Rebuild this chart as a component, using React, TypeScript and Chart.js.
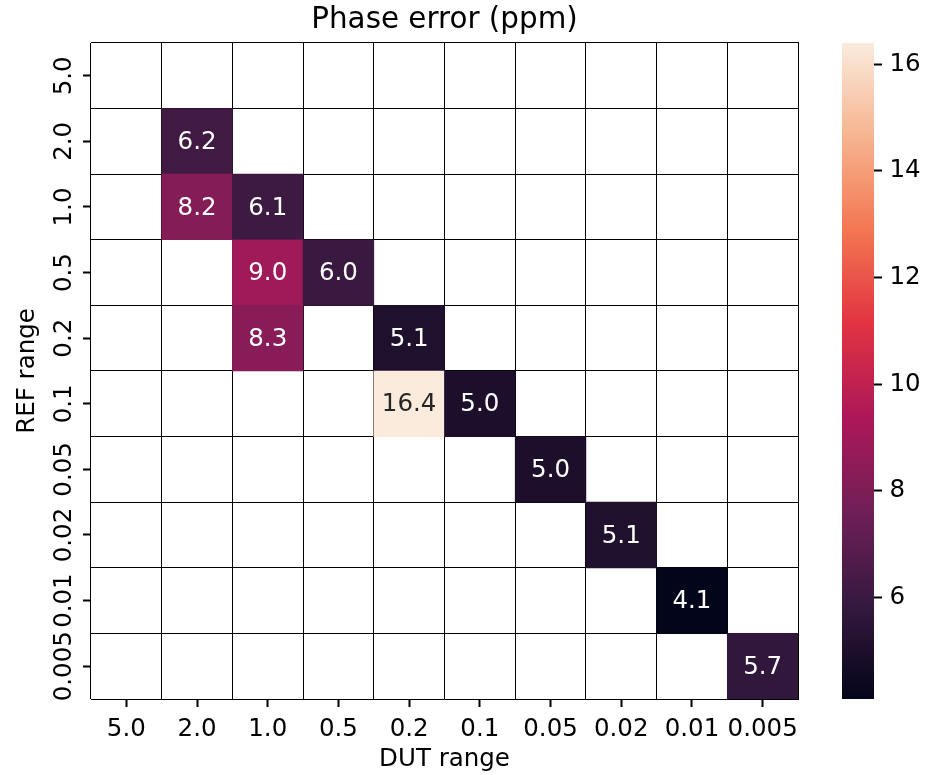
import React, { useEffect, useRef } from 'react';
import { Chart, registerables } from 'chart.js';

Chart.register(...registerables);

// Axis categories (instrument ranges)
const dutRanges = ['5.0', '2.0', '1.0', '0.5', '0.2', '0.1', '0.05', '0.02', '0.01', '0.005'];
const refRanges = ['5.0', '2.0', '1.0', '0.5', '0.2', '0.1', '0.05', '0.02', '0.01', '0.005'];

// Phase error in ppm; one row per REF range, one column per DUT range (null = not measured)
const _ = null;
const phaseError: (number | null)[][] = [
  [_, _, _, _, _, _, _, _, _, _],
  [_, 6.2, _, _, _, _, _, _, _, _],
  [_, 8.2, 6.1, _, _, _, _, _, _, _],
  [_, _, 9.0, 6.0, _, _, _, _, _, _],
  [_, _, 8.3, _, 5.1, _, _, _, _, _],
  [_, _, _, _, 16.4, 5.0, _, _, _, _],
  [_, _, _, _, _, _, 5.0, _, _, _],
  [_, _, _, _, _, _, _, 5.1, _, _],
  [_, _, _, _, _, _, _, _, 4.1, _],
  [_, _, _, _, _, _, _, _, _, 5.7],
];

// Colour scale limits and colorbar ticks
const colorMin = 4.1;
const colorMax = 16.4;
const colorbarTicks = [6, 8, 10, 12, 14, 16];

const FAMILY = '"DejaVu Sans", "Liberation Sans", sans-serif';
const TICK_SIZE = 24.5;
const TITLE_SIZE = 29.4;

// "rocket" colormap control points
const rocketStops: [number, string][] = [
  [0, '#03051a'],
  [1 / 7, '#35193e'],
  [2 / 7, '#701f57'],
  [3 / 7, '#ad1759'],
  [4 / 7, '#e13342'],
  [5 / 7, '#f37651'],
  [6 / 7, '#f6b48f'],
  [1, '#faebdd'],
];

function hexToRgb(h: string): number[] {
  return [1, 3, 5].map((i) => parseInt(h.slice(i, i + 2), 16));
}

function rocketRgb(t: number): number[] {
  const x = Math.max(0, Math.min(1, t));
  for (let i = 1; i < rocketStops.length; i++) {
    const [t1, c1] = rocketStops[i];
    const [t0, c0] = rocketStops[i - 1];
    if (x <= t1) {
      const f = (x - t0) / (t1 - t0);
      const a = hexToRgb(c0);
      const b = hexToRgb(c1);
      return a.map((v, k) => Math.round(v + (b[k] - v) * f));
    }
  }
  return hexToRgb(rocketStops[rocketStops.length - 1][1]);
}

function rocket(t: number): string {
  const [r, g, b] = rocketRgb(t);
  return `rgb(${r},${g},${b})`;
}

function norm(v: number): number {
  return (v - colorMin) / (colorMax - colorMin);
}

function textColorFor(v: number): string {
  const lin = rocketRgb(norm(v)).map((c) => {
    const s = c / 255;
    return s <= 0.03928 ? s / 12.92 : Math.pow((s + 0.055) / 1.055, 2.4);
  });
  const lum = 0.2126 * lin[0] + 0.7152 * lin[1] + 0.0722 * lin[2];
  return lum > 0.408 ? '#262626' : '#ffffff';
}

type Cell = { x: string; y: [number, number]; v: number };

const cells: Cell[] = [];
phaseError.forEach((row, r) =>
  row.forEach((v, c) => {
    if (v !== null) cells.push({ x: dutRanges[c], y: [r, r + 1], v });
  })
);

// Writes each cell's value in its centre
const cellLabels = {
  id: 'cellLabels',
  afterDatasetsDraw(chart: any) {
    const meta = chart.getDatasetMeta(0);
    const ctx = chart.ctx;
    ctx.save();
    ctx.font = `${TICK_SIZE}px ${FAMILY}`;
    ctx.textAlign = 'center';
    ctx.textBaseline = 'alphabetic';
    meta.data.forEach((bar: any, i: number) => {
      const cell = cells[i];
      const { x, y, base } = bar.getProps(['x', 'y', 'base'], true);
      const cy = (y + base) / 2;
      ctx.fillStyle = textColorFor(cell.v);
      ctx.fillText(cell.v.toFixed(1), x, cy + 7.7);
    });
    ctx.restore();
  },
};

// Vertical (rotated) tick labels for the REF range axis
const refTickLabels = {
  id: 'refTickLabels',
  afterDraw(chart: any) {
    const s = chart.scales.yl;
    const ctx = chart.ctx;
    ctx.save();
    ctx.font = `${TICK_SIZE}px ${FAMILY}`;
    ctx.fillStyle = '#000';
    ctx.textAlign = 'center';
    ctx.textBaseline = 'alphabetic';
    const labels = s.getLabels();
    s.ticks.forEach((t: any, i: number) => {
      const y = s.getPixelForTick(i);
      ctx.save();
      ctx.translate(s.right - 20.3, y);
      ctx.rotate(-Math.PI / 2);
      ctx.fillText(String(labels[t.value] ?? t.label), 0, 0);
      ctx.restore();
    });
    ctx.restore();
  },
};

export default function App() {
  const heatRef = useRef<HTMLCanvasElement | null>(null);
  const barRef = useRef<HTMLCanvasElement | null>(null);

  useEffect(() => {
    const tickFont = { family: FAMILY, size: TICK_SIZE, weight: 'normal' as const };

    const heat = new Chart(heatRef.current as HTMLCanvasElement, {
      type: 'bar',
      data: {
        labels: dutRanges,
        datasets: [
          {
            data: cells as any,
            backgroundColor: (c: any) => (c.raw ? rocket(norm(c.raw.v)) : 'transparent'),
            borderWidth: 0,
            barPercentage: 1,
            categoryPercentage: 1,
            grouped: false,
          },
        ],
      },
      options: {
        responsive: false,
        animation: false,
        events: [],
        layout: { padding: { left: 0, right: 127, top: 0, bottom: 0 } },
        plugins: {
          legend: { display: false },
          tooltip: { enabled: false },
          title: {
            display: true,
            text: 'Phase error (ppm)',
            color: '#000',
            font: { family: FAMILY, size: TITLE_SIZE, weight: 'normal' },
            padding: { top: 3, bottom: 4.7 },
            fullSize: false,
          },
        },
        scales: {
          x: {
            type: 'category',
            position: 'bottom',
            offset: true,
            grid: {
              offset: false,
              drawOnChartArea: false,
              drawTicks: true,
              tickLength: 8,
              tickWidth: 2,
              tickColor: '#000',
            },
            border: { display: false },
            ticks: {
              color: '#000',
              font: tickFont,
              padding: 7.5,
              minRotation: 0,
              maxRotation: 0,
              autoSkip: false,
            },
            title: {
              display: true,
              text: 'DUT range',
              color: '#000',
              font: tickFont,
              padding: { top: 0, bottom: 1 },
            },
            afterFit: (s: any) => {
              s.height = 76;
            },
          },
          xg: {
            type: 'category',
            position: 'top',
            labels: dutRanges,
            offset: true,
            z: 1,
            grid: { offset: true, color: '#000', lineWidth: 1, drawTicks: false },
            border: { display: true, color: '#000', width: 1 },
            ticks: { display: false },
            afterFit: (s: any) => {
              s.height = 0;
            },
          },
          y: {
            type: 'linear',
            position: 'right',
            min: 0,
            max: refRanges.length,
            reverse: true,
            z: 1,
            ticks: { display: false, stepSize: 1 },
            grid: { color: '#000', lineWidth: 1, drawTicks: false },
            border: { display: true, color: '#000', width: 1 },
            afterFit: (s: any) => {
              s.width = 0;
            },
          },
          yl: {
            type: 'category',
            position: 'left',
            labels: refRanges,
            offset: true,
            grid: {
              offset: false,
              drawOnChartArea: false,
              drawTicks: true,
              tickLength: 8,
              tickWidth: 2,
              tickColor: '#000',
            },
            border: { display: false },
            ticks: { display: false },
            title: {
              display: true,
              text: 'REF range',
              color: '#000',
              font: tickFont,
              padding: { top: 13, bottom: 0 },
            },
            afterFit: (s: any) => {
              s.width = 91;
            },
          },
        } as any,
      },
      plugins: [cellLabels, refTickLabels],
    });

    const colorbar = new Chart(barRef.current as HTMLCanvasElement, {
      type: 'bar',
      data: {
        labels: [''],
        datasets: [
          {
            data: [[colorMin, colorMax]] as any,
            backgroundColor: (c: any) => {
              const chart = c.chart;
              const ys = chart.scales.y;
              if (!ys || !chart.chartArea) return rocket(0.5);
              const g = chart.ctx.createLinearGradient(
                0,
                ys.getPixelForValue(colorMin),
                0,
                ys.getPixelForValue(colorMax)
              );
              rocketStops.forEach(([t, col]) => g.addColorStop(t, col));
              return g;
            },
            borderWidth: 0,
            barPercentage: 1,
            categoryPercentage: 1,
          },
        ],
      },
      options: {
        responsive: false,
        animation: false,
        events: [],
        layout: { padding: { left: 22, right: 0, top: 43, bottom: 76 } },
        plugins: { legend: { display: false }, tooltip: { enabled: false } },
        scales: {
          x: { display: false },
          y: {
            type: 'linear',
            position: 'right',
            min: colorMin,
            max: colorMax,
            afterBuildTicks: (s: any) => {
              s.ticks = colorbarTicks.map((v) => ({ value: v }));
            },
            ticks: { color: '#000', font: tickFont, padding: 7.5 },
            grid: {
              drawOnChartArea: false,
              drawTicks: true,
              tickLength: 8,
              tickWidth: 2,
              tickColor: '#000',
            },
            border: { display: false },
            afterFit: (s: any) => {
              s.width = 51;
            },
          },
        } as any,
      },
    });

    return () => {
      heat.destroy();
      colorbar.destroy();
    };
  }, []);

  return (
    <div
      style={{
        position: 'fixed',
        left: 0,
        top: 0,
        width: 925,
        height: 775,
        background: '#fff',
      }}
    >
      <canvas
        ref={heatRef}
        width={925}
        height={775}
        style={{ position: 'absolute', left: 0, top: 0, width: 925, height: 775 }}
      />
      <canvas
        ref={barRef}
        width={105}
        height={775}
        style={{ position: 'absolute', left: 820, top: 0, width: 105, height: 775 }}
      />
    </div>
  );
}
